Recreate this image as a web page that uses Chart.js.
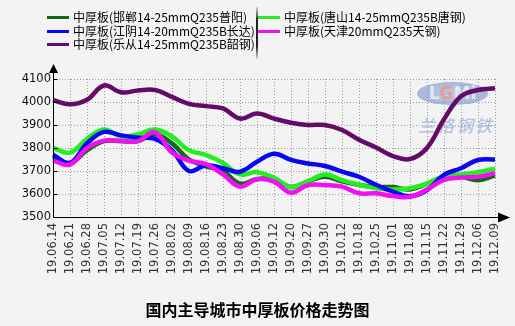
<!DOCTYPE html>
<html>
<head>
<meta charset="utf-8">
<script src="https://cdn.jsdelivr.net/npm/chart.js@4"></script>
<style>
  html, body { margin: 0; padding: 0; }
  body { width: 515px; height: 326px; background: #f3f3f3; position: relative; overflow: hidden;
         font-family: "Noto Sans CJK SC", sans-serif; }
  #chart { position: absolute; left: 0; top: 0; z-index: 2; }
  .lg { position: absolute; font-size: 12px; line-height: 14px; color: #000; white-space: nowrap; z-index: 3; }
  .lg i { position: absolute; height: 3px; top: 6px; }
  .sep { position: absolute; left: 256px; top: 7px; width: 2px; height: 52px; z-index: 3;
         background: linear-gradient(to bottom, rgba(0,0,0,0.1), #222 25%, #222 75%, rgba(0,0,0,0.1)); }
  .logo { position: absolute; left: 417px; top: 82px; width: 71px; height: 23px; border-radius: 50%;
          background: radial-gradient(ellipse at center, #a9bde0 0%, #7f9bcd 100%); opacity: 0.75; z-index: 1;
          font: bold 17px "DejaVu Sans", sans-serif; color: #dfe3ea; text-align: center; line-height: 23px; }
  .logo b { color: #e58080; }
  .mark { position: absolute; left: 418px; top: 112px; font-size: 17px; letter-spacing: 2px; color: #9cb3da;
          opacity: 0.85; z-index: 1; font-style: italic; }
  .title { position: absolute; left: 0; width: 515px; top: 297px; text-align: center; font-size: 16px;
           font-weight: bold; color: #000; z-index: 3; }
</style>
</head>
<body>
<div class="logo">L<b>G</b>Mi</div>
<div class="mark">兰格钢铁</div>
<canvas id="chart" width="515" height="326"></canvas>
<div id="legend"></div>
<div class="sep"></div>
<div class="title">国内主导城市中厚板价格走势图</div>
<script>
// x categories (weekly dates)
const labels = ['19.06.14','19.06.21','19.06.28','19.07.05','19.07.12','19.07.19','19.07.26','19.08.02',
  '19.08.09','19.08.16','19.08.23','19.08.30','19.09.06','19.09.12','19.09.20','19.09.27','19.09.30',
  '19.10.12','19.10.18','19.10.25','19.11.01','19.11.08','19.11.15','19.11.22','19.11.29','19.12.06','19.12.09'];

// prices, yuan/ton
const handan   = [3760,3735,3790,3830,3830,3830,3860,3820,3750,3720,3700,3645,3665,3665,3630,3655,3675,
                  3655,3640,3630,3630,3620,3645,3675,3675,3660,3680];
const tangshan = [3800,3780,3840,3880,3850,3860,3880,3850,3790,3770,3735,3685,3695,3670,3630,3655,3685,
                  3660,3640,3625,3620,3625,3645,3675,3685,3695,3710];
const jiangyin = [3770,3735,3820,3870,3855,3845,3840,3790,3700,3725,3712,3697,3740,3775,3748,3733,3722,
                  3697,3675,3640,3610,3590,3617,3683,3712,3748,3750];
const tianjin  = [3745,3728,3800,3832,3830,3830,3868,3780,3745,3730,3685,3632,3664,3654,3606,3639,3639,
                  3632,3603,3603,3591,3588,3620,3661,3672,3675,3690];
const lecong   = [4008,3990,4010,4072,4042,4050,4052,4022,3992,3982,3972,3928,3950,3928,3910,3900,3900,
                  3878,3836,3802,3765,3752,3800,3925,4025,4052,4060];

const yTicks = [3500, 3600, 3700, 3800, 3900, 4000, 4100];

const series = [
  { label: '中厚板(邯郸14-25mmQ235普阳)',    data: handan,   color: '#146914', order: 3, lx: 47,  ly: 10 },
  { label: '中厚板(江阴14-20mmQ235B长达)',   data: jiangyin, color: '#0808f0', order: 1, lx: 47,  ly: 24 },
  { label: '中厚板(乐从14-25mmQ235B韶钢)',   data: lecong,   color: '#640a68', order: 4, lx: 47,  ly: 37 },
  { label: '中厚板(唐山14-25mmQ235B唐钢)',   data: tangshan, color: '#22ee22', order: 2, lx: 258, ly: 10 },
  { label: '中厚板(天津20mmQ235天钢)',       data: tianjin,  color: '#f010f0', order: 0, lx: 258, ly: 24 }
];

// legend, two columns
const lg = document.getElementById('legend');
series.forEach(s => {
  const d = document.createElement('div');
  d.className = 'lg';
  d.style.left = s.lx + 'px';
  d.style.top = s.ly + 'px';
  d.style.paddingLeft = '26px';
  d.innerHTML = '<i style="left:0;width:22px;background:' + s.color + '"></i>' + s.label;
  lg.appendChild(d);
});

// axis lines with arrows + short inward ticks
const axisArrows = {
  id: 'axisArrows',
  afterDatasetsDraw(chart) {
    const { ctx, chartArea: a, scales: { y } } = chart;
    const L = Math.round(a.left) + 0.5, B = Math.round(a.bottom) + 0.5;
    ctx.save();
    ctx.strokeStyle = '#000';
    ctx.fillStyle = '#000';
    ctx.lineWidth = 1;
    ctx.beginPath();
    ctx.moveTo(L, a.top - 8); ctx.lineTo(L, B); ctx.lineTo(a.right + 6, B);
    yTicks.forEach(v => {
      const p = Math.round(y.getPixelForValue(v)) + 0.5;
      ctx.moveTo(L, p); ctx.lineTo(L + 4, p);
    });
    ctx.stroke();
    ctx.beginPath();
    ctx.moveTo(L, a.top - 15); ctx.lineTo(L - 4.5, a.top - 6); ctx.lineTo(L + 4.5, a.top - 6);
    ctx.closePath(); ctx.fill();
    ctx.beginPath();
    ctx.moveTo(a.right + 15, B); ctx.lineTo(a.right + 3, B - 5); ctx.lineTo(a.right + 3, B + 5);
    ctx.closePath(); ctx.fill();
    ctx.restore();
  }
};

new Chart(document.getElementById('chart'), {
  type: 'line',
  data: {
    labels: labels,
    datasets: series.map(s => ({
      label: s.label,
      data: s.data,
      borderColor: s.color,
      backgroundColor: s.color,
      borderWidth: 4.5,
      pointRadius: 0,
      tension: 0.4,
      fill: false,
      order: s.order
    }))
  },
  options: {
    responsive: false,
    animation: false,
    events: [],
    layout: { padding: { top: 79, right: 20, left: 0, bottom: 0 } },
    plugins: { legend: { display: false }, tooltip: { enabled: false } },
    scales: {
      x: {
        offset: false,
        afterFit: s => { s.height = 109; },
        grid: { color: '#9a9a9a', lineWidth: 1, drawTicks: false, offset: false },
        border: { display: false, dash: [1, 2] },
        ticks: {
          autoSkip: false, maxRotation: 90, minRotation: 90, padding: 6,
          color: '#333', font: { family: 'DejaVu Sans', size: 11.5 }
        }
      },
      y: {
        min: 3500, max: 4100,
        afterFit: s => { s.width = 53; },
        grid: { color: '#9a9a9a', lineWidth: 1, drawTicks: false },
        border: { display: false, dash: [1, 2] },
        ticks: {
          stepSize: 50, padding: 2, color: '#111',
          font: { family: 'DejaVu Sans', size: 11.5 },
          callback: v => (v % 100 === 0 ? v : '')
        }
      }
    }
  },
  plugins: [axisArrows]
});
</script>
</body>
</html>
